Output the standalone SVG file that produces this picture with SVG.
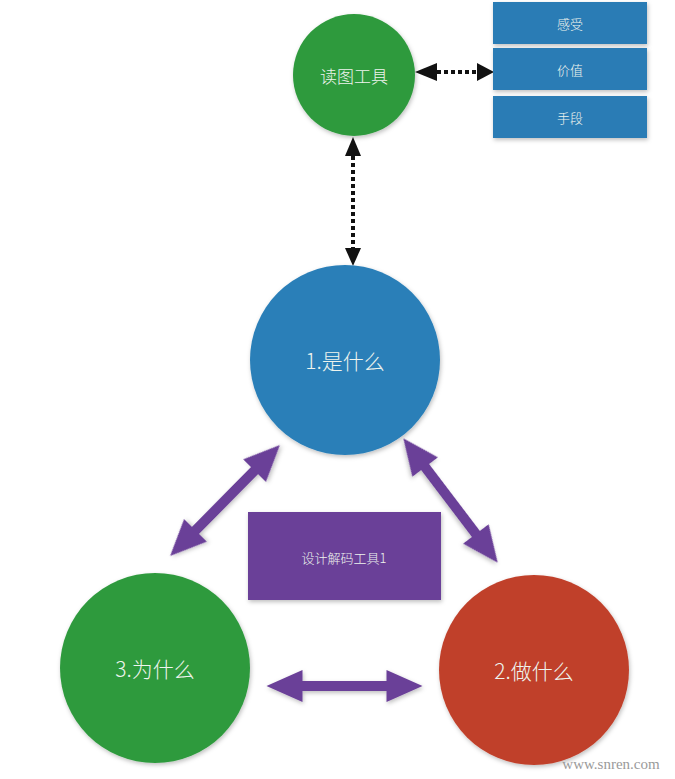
<svg xmlns="http://www.w3.org/2000/svg" width="675" height="779" viewBox="0 0 675 779">
<style>
.t{font-family:"Noto Sans CJK SC","Noto Sans",sans-serif;font-weight:300;fill:#eef4ee;text-anchor:middle;dominant-baseline:central}
.dot{stroke:#111;stroke-width:4;stroke-dasharray:4 3;fill:none}
.head{fill:#111}
.parr{fill:#6b3f98;filter:url(#sh)}
</style>
<defs>
<filter id="sh" x="-20%" y="-20%" width="140%" height="140%">
<feDropShadow dx="1" dy="2" stdDeviation="2" flood-color="#000" flood-opacity="0.25"/>
</filter>
<path id="dbl" d="M-78,0 L-42,-16 L-42,-5 L42,-5 L42,-16 L78,0 L42,16 L42,5 L-42,5 L-42,16 Z"/>
</defs>
<rect width="675" height="779" fill="#ffffff"/>
<g id="connectors">
<line class="dot" x1="437" y1="72" x2="477" y2="72"/>
<polygon class="head" points="415,72 437,63 437,81"/>
<polygon class="head" points="494,72 477,63 477,81"/>
<line class="dot" x1="353" y1="156" x2="353" y2="248"/>
<polygon class="head" points="353,137 345,156 361,156"/>
<polygon class="head" points="353,266 345,248 361,248"/>
<use href="#dbl" class="parr" transform="translate(225,500.5) rotate(-45.3)"/>
<use href="#dbl" class="parr" transform="translate(450.5,500.5) rotate(52.8)"/>
<use href="#dbl" class="parr" transform="translate(344.5,686)"/>
</g>
<g id="node-dutu">
<circle cx="354" cy="75" r="61" fill="#2f9a3e" filter="url(#sh)"/>
<text class="t" x="354" y="75" font-size="17">读图工具</text>
</g>
<g id="node-ganshou">
<rect x="493" y="2" width="154" height="42" fill="#2b7bb5" filter="url(#sh)"/>
<text class="t" x="570" y="23" font-size="13">感受</text>
</g>
<g id="node-jiazhi">
<rect x="493" y="48" width="154" height="42" fill="#2b7bb5" filter="url(#sh)"/>
<text class="t" x="570" y="69" font-size="13">价值</text>
</g>
<g id="node-shouduan">
<rect x="493" y="96" width="154" height="42" fill="#2b7bb5" filter="url(#sh)"/>
<text class="t" x="570" y="117" font-size="13">手段</text>
</g>
<g id="node-what">
<circle cx="345" cy="360" r="95" fill="#2a7fb8" filter="url(#sh)"/>
<text class="t" x="345" y="360" font-size="21">1.是什么</text>
</g>
<g id="node-tool">
<rect x="248" y="512" width="193" height="88" fill="#6b3f98" filter="url(#sh)"/>
<text class="t" x="344" y="557" font-size="13">设计解码工具1</text>
</g>
<g id="node-why">
<circle cx="155" cy="668" r="95" fill="#2f9a3e" filter="url(#sh)"/>
<text class="t" x="155" y="668" font-size="21">3.为什么</text>
</g>
<g id="node-do">
<circle cx="534" cy="670" r="95" fill="#c0412c" filter="url(#sh)"/>
<text class="t" x="534" y="670" font-size="21">2.做什么</text>
</g>
<text x="611" y="769" font-family="'Liberation Serif',serif" font-size="15" fill="#9a9a9a" text-anchor="middle">www.snren.com</text>
</svg>
